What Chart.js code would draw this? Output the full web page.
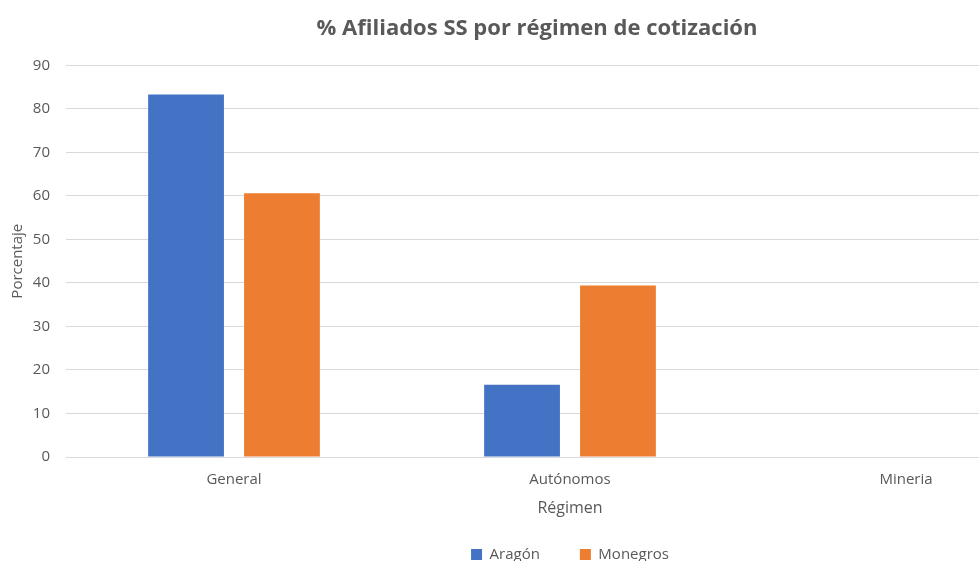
<!DOCTYPE html>
<html>
<head>
<meta charset="utf-8">
<script src="https://cdn.jsdelivr.net/npm/chart.js@4.4.1/dist/chart.umd.min.js"></script>
<style>
  html, body { margin: 0; padding: 0; background: #fff; overflow: hidden; }
  #caja { width: 1076px; height: 572px; }
</style>
</head>
<body>
<div id="caja"><canvas id="grafico"></canvas></div>
<script>
// datos del grafico
var regimenes = ["General", "Autónomos", "Mineria"];
var valoresAragon = [83.3, 16.6, 0.1];
var valoresMonegros = [60.6, 39.4, 0];
var ticksY = [0, 10, 20, 30, 40, 50, 60, 70, 80, 90];

var gris = "#595959";
var fuente = "'Open Sans', sans-serif";

function desenharGrafico() {
    var ctx = document.getElementById("grafico").getContext("2d");

    new Chart(ctx, {
        type: "bar",
        data: {
            labels: regimenes,
            datasets: [
                { label: "Aragón", data: valoresAragon, backgroundColor: "#4472C4" },
                { label: "Monegros", data: valoresMonegros, backgroundColor: "#ED7D31" }
            ]
        },
        options: {
            responsive: true,
            maintainAspectRatio: false,
            animation: false,
            categoryPercentage: 0.571,
            barPercentage: 0.79,
            layout: { padding: { left: 0, right: 2, top: 0, bottom: 0 } },
            plugins: {
                title: {
                    display: true,
                    text: "% Afiliados SS por régimen de cotización",
                    color: gris,
                    font: { family: fuente, size: 22, weight: "bold" },
                    padding: { top: 16, bottom: 23 }
                },
                legend: {
                    position: "bottom",
                    fullSize: false,
                    labels: {
                        color: gris,
                        font: { family: fuente, size: 15 },
                        boxWidth: 11,
                        boxHeight: 11,
                        padding: 40
                    }
                },
                tooltip: { enabled: false }
            },
            scales: {
                x: {
                    afterFit: function (escala) { escala.height = 50; },
                    grid: { display: false, drawTicks: false },
                    border: { display: true, color: "#d9d9d9" },
                    ticks: { color: gris, font: { family: fuente, size: 15 }, padding: 14 },
                    title: {
                        display: true,
                        text: "Régimen",
                        color: gris,
                        font: { family: fuente, size: 16 },
                        padding: { top: 0, bottom: -11 }
                    }
                },
                y: {
                    min: 0,
                    max: 90,
                    afterBuildTicks: function (escala) {
                        escala.ticks = ticksY.map(function (v) { return { value: v }; });
                    },
                    afterFit: function (escala) { escala.width = 66; },
                    grid: { color: "#d9d9d9", drawTicks: false },
                    border: { display: false },
                    ticks: { color: gris, font: { family: fuente, size: 15 }, padding: 16 },
                    title: {
                        display: true,
                        text: "Porcentaje",
                        color: gris,
                        font: { family: fuente, size: 15 },
                        padding: { top: 9, bottom: 0 }
                    }
                }
            }
        }
    });
}

desenharGrafico();
</script>
</body>
</html>
